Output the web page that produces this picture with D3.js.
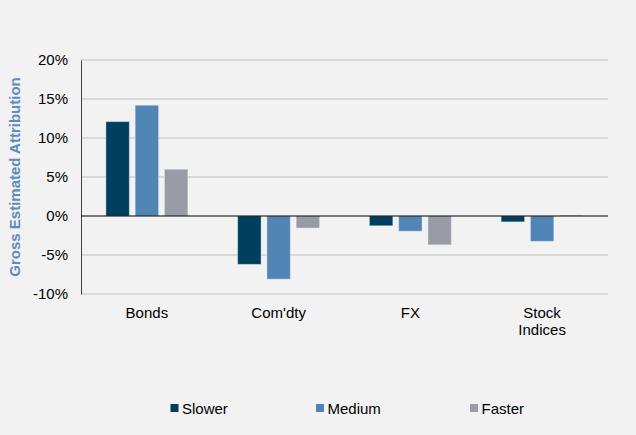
<!DOCTYPE html>
<html><head><meta charset="utf-8">
<script src="https://cdn.jsdelivr.net/npm/d3@7"></script>
<style>
body{margin:0;background:#f2f2f2;}
svg{display:block;font-family:"Liberation Sans",Arial,sans-serif;}
</style></head><body>
<svg id="c" width="636" height="435"></svg>
<script>
const categories = ["Bonds", "Com'dty", "FX", "Stock\nIndices"];
const seriesNames = ["Slower", "Medium", "Faster"];
const slower = [12.1, -6.2, -1.25, -0.75];
const medium = [14.2, -8.1, -1.95, -3.25];
const faster = [6.0, -1.55, -3.7, 0.1];
const yTicks = [-10, -5, 0, 5, 10, 15, 20];
const colors = ["#00405f", "#5185b5", "#999ca6"];

const values = [slower, medium, faster];
const svg = d3.select("#c");
const L = 81, R = 608, T = 60, B = 294;

const y = d3.scaleLinear().domain([-10, 20]).range([B, T]);
const x0 = d3.scaleBand().domain(categories).range([L, R]).paddingInner(0.378).paddingOuter(0.189);
const x1 = d3.scaleBand().domain(seriesNames).range([0, x0.bandwidth()]).paddingInner(0.2).paddingOuter(0);

// gridlines
svg.append("g").selectAll("line").data(yTicks.filter(d => d !== 0)).join("line")
  .attr("x1", L).attr("x2", R).attr("y1", d => y(d)).attr("y2", d => y(d))
  .attr("stroke", "#bfbfbf").attr("stroke-width", 1);

// y axis
const yAxis = d3.axisLeft(y).tickValues(yTicks).tickFormat(d => d + "%").tickSize(0).tickPadding(13);
const ga = svg.append("g").attr("transform", `translate(${L},0)`).call(yAxis);
ga.select(".domain").attr("stroke", "#404040");
ga.selectAll("text").attr("font-size", 15).attr("fill", "#000").attr("font-family", "Liberation Sans, Arial, sans-serif");

// bars
categories.forEach((c, ci) => {
  seriesNames.forEach((s, si) => {
    const v = values[si][ci];
    svg.append("rect")
      .attr("x", x0(c) + x1(s))
      .attr("width", x1.bandwidth())
      .attr("y", y(Math.max(0, v)))
      .attr("height", Math.abs(y(v) - y(0)))
      .attr("fill", colors[si])
      .attr("stroke", "rgba(255,255,255,0.35)")
      .attr("stroke-width", 1);
  });
});

// zero line
svg.append("line").attr("x1", L).attr("x2", R).attr("y1", y(0)).attr("y2", y(0))
  .attr("stroke", "#000").attr("stroke-width", 1.2);

// category labels
categories.forEach(c => {
  const lines = c.split("\n");
  const t = svg.append("text").attr("text-anchor", "middle").attr("font-size", 15).attr("fill", "#000")
    .attr("x", x0(c) + x0.bandwidth() / 2).attr("y", 318);
  lines.forEach((ln, i) => t.append("tspan").attr("x", x0(c) + x0.bandwidth() / 2).attr("dy", i === 0 ? 0 : 17).text(ln));
});

// y title
svg.append("text").attr("transform", `translate(20,177) rotate(-90)`)
  .attr("text-anchor", "middle").attr("font-size", 15).attr("font-weight", "bold")
  .attr("fill", "#5b8bc0").text("Gross Estimated Attribution");

// legend
const legX = [170.5, 316, 470];
seriesNames.forEach((s, i) => {
  svg.append("rect").attr("x", legX[i]).attr("y", 404).attr("width", 8).attr("height", 8).attr("fill", colors[i]);
  svg.append("text").attr("x", legX[i] + 11.5).attr("y", 413.5).attr("font-size", 15).attr("fill", "#000").text(s);
});
</script>
</body></html>
